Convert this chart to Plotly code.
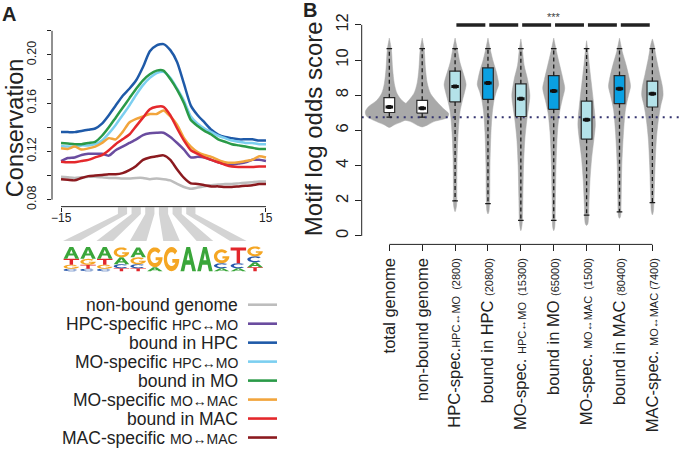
import numpy as np
import plotly.graph_objects as go

W, H = 680, 461
FONT = "Liberation Sans, Arial, Helvetica, sans-serif"
INK = "#222222"

# ---------------- Panel A data ----------------
positions = list(range(-15, 16))
cons_nonbound = [0.099,0.0985,0.098,0.0985,0.099,0.099,0.0985,0.098,0.098,0.0975,0.0975,0.098,0.098,0.097,0.0975,0.097,0.096,0.093,0.0905,0.089,0.090,0.091,0.092,0.0925,0.093,0.093,0.0935,0.094,0.0945,0.095,0.095]
cons_hpc_spec = [0.112,0.1145,0.115,0.117,0.118,0.118,0.118,0.1165,0.121,0.124,0.127,0.130,0.1335,0.135,0.1355,0.1355,0.132,0.127,0.1215,0.115,0.1155,0.115,0.113,0.111,0.1095,0.109,0.110,0.111,0.113,0.113,0.112]
cons_bound_hpc = [0.136,0.136,0.136,0.137,0.138,0.139,0.143,0.150,0.158,0.166,0.172,0.179,0.190,0.203,0.208,0.209,0.204,0.194,0.176,0.158,0.150,0.144,0.138,0.134,0.132,0.131,0.130,0.130,0.130,0.129,0.129]
cons_mo_spec_hpc = [0.1245,0.124,0.124,0.125,0.125,0.126,0.129,0.135,0.142,0.150,0.158,0.167,0.175,0.181,0.185,0.186,0.181,0.172,0.162,0.149,0.143,0.139,0.136,0.133,0.131,0.129,0.128,0.127,0.127,0.126,0.126]
cons_bound_mo = [0.127,0.1265,0.126,0.126,0.127,0.128,0.133,0.140,0.148,0.156,0.164,0.172,0.179,0.184,0.187,0.187,0.180,0.171,0.160,0.146,0.141,0.137,0.134,0.130,0.128,0.126,0.125,0.124,0.123,0.122,0.122]
cons_mo_spec_mac = [0.1226,0.122,0.124,0.1215,0.1225,0.124,0.127,0.131,0.130,0.136,0.144,0.147,0.149,0.151,0.151,0.154,0.149,0.142,0.131,0.124,0.1195,0.117,0.1155,0.113,0.111,0.1105,0.111,0.112,0.113,0.116,0.115]
cons_bound_mac = [0.1115,0.111,0.111,0.112,0.113,0.115,0.117,0.121,0.126,0.130,0.134,0.141,0.148,0.155,0.157,0.157,0.150,0.139,0.129,0.121,0.118,0.115,0.113,0.111,0.109,0.1075,0.107,0.107,0.107,0.1075,0.1075]
cons_mac_spec = [0.097,0.0965,0.096,0.098,0.0995,0.100,0.1005,0.101,0.101,0.102,0.1045,0.108,0.113,0.115,0.116,0.1167,0.113,0.105,0.098,0.0935,0.093,0.092,0.091,0.091,0.0905,0.0905,0.091,0.0915,0.092,0.093,0.093]

series_values = [cons_nonbound, cons_hpc_spec, cons_bound_hpc, cons_mo_spec_hpc,
                 cons_bound_mo, cons_mo_spec_mac, cons_bound_mac, cons_mac_spec]
series_names = ["non-bound genome", "HPC-specific", "bound in HPC", "MO-specific",
                "bound in MO", "MO-specific", "bound in MAC", "MAC-specific"]
series_sub = ["", "HPC↔MO", "", "HPC↔MO", "", "MO↔MAC", "", "MO↔MAC"]
series_colors = ["#bdbdbd", "#6a4c9f", "#1f5aa8", "#7ccff0", "#2a9a48",
                 "#f2a53c", "#e4282c", "#8b1a1f"]

a_xticks = [-15, 15]
a_xticktext = ["\u221215", "15"]
a_yticks = [0.08, 0.10, 0.12, 0.14, 0.16, 0.18, 0.20, 0.22]
a_yticktext = ["0.08", "", "0.12", "", "0.16", "", "0.20", ""]

# motif logo (letter, bits), listed top -> bottom per column
logo_cols = [
    [("A", 0.96), ("T", 0.48), ("G", 0.32), ("C", 0.20)],
    [("A", 0.96), ("G", 0.48), ("T", 0.32), ("C", 0.20)],
    [("A", 0.96), ("T", 0.48), ("G", 0.32), ("C", 0.20)],
    [("G", 0.80), ("A", 0.56), ("C", 0.32), ("T", 0.24)],
    [("A", 0.80), ("G", 0.56), ("C", 0.32), ("T", 0.24)],
    [("G", 1.60), ("A", 0.32)],
    [("G", 1.95)],
    [("A", 1.95)],
    [("A", 1.95)],
    [("G", 1.12), ("C", 0.40), ("A", 0.24)],
    [("T", 1.28), ("C", 0.40), ("A", 0.24)],
    [("G", 0.80), ("C", 0.48), ("A", 0.40), ("T", 0.32)],
]
logo_positions = [-6, -5, -4, -3, -2, -1, 0, 1, 2, 3, 4, 5]
letter_colors = {"A": "#3aa63a", "C": "#2656ab", "G": "#f5a623", "T": "#e2262b"}

# ---------------- Panel B data ----------------
categories = ["total genome", "non-bound genome",
              "HPC-spec.<span style='font-size:11px'>HPC↔MO  (2800)</span>",
              "bound in HPC <span style='font-size:11px'>(20800)</span>",
              "MO-spec. <span style='font-size:11px'>HPC↔MO  (15300)</span>",
              "bound in MO <span style='font-size:11px'>(65000)</span>",
              "MO-spec. <span style='font-size:11px'>MO↔MAC  (1500)</span>",
              "bound in MAC <span style='font-size:11px'>(80400)</span>",
              "MAC-spec. <span style='font-size:11px'>MO↔MAC (7400)</span>"]
q1 = [7.02, 6.98, 7.62, 7.77, 6.79, 7.20, 5.50, 7.52, 7.33]
medians = [7.33, 7.26, 8.50, 8.69, 7.80, 8.24, 6.60, 8.37, 8.09]
q3 = [7.86, 7.71, 9.37, 9.56, 8.65, 9.12, 7.67, 9.12, 8.80]
lower_whisker = [6.75, 6.75, 1.99, 1.84, 0.89, 0.89, 1.18, 1.37, 1.89]
upper_whisker = [10.65, 10.65, 10.65, 10.65, 10.65, 10.65, 10.65, 10.65, 10.65]
box_colors = ["#ffffff", "#ffffff", "#b4e2e9", "#0aa0e2", "#b4e2e9",
              "#0aa0e2", "#b4e2e9", "#0aa0e2", "#b4e2e9"]
score_threshold = 6.75
b_yticks = [0, 2, 4, 6, 8, 10, 12]

violin_levels = [
    [6.17, 6.3, 6.5, 6.8, 7.06, 7.34, 7.7, 8.1, 8.66, 9.5, 10.6, 11.25],
    [6.2, 6.3, 6.5, 6.73, 6.95, 7.2, 7.5, 8.1, 8.7, 9.5, 10.6, 11.25],
    [1.38, 1.75, 2.9, 4.4, 5.5, 6.6, 7.2, 7.7, 8.3, 8.6, 8.9, 9.4, 9.9, 10.5, 11.25],
    [1.25, 1.4, 2.2, 4.0, 5.9, 7.0, 7.7, 8.2, 8.6, 8.9, 9.4, 9.9, 10.5, 11.25],
    [0.3, 0.7, 2.2, 4.0, 5.5, 6.6, 7.4, 8.0, 8.9, 9.7, 10.6, 11.2],
    [0.3, 0.5, 2.2, 4.0, 5.9, 7.0, 7.7, 8.4, 8.9, 9.7, 10.5, 11.25],
    [0.6, 0.7, 1.8, 3.1, 4.4, 5.5, 6.3, 6.8, 7.7, 8.7, 9.7, 10.5, 11.1],
    [1.0, 1.1, 2.2, 4.0, 5.9, 7.2, 8.0, 8.5, 8.9, 9.7, 10.5, 11.25],
    [1.2, 1.4, 2.2, 4.0, 5.5, 6.6, 7.4, 8.0, 8.5, 9.2, 10.1, 10.9, 11.2],
]
violin_halfwidths = [
    [0, 4.3, 12.7, 22.7, 24, 21, 12.7, 7.7, 5, 3.3, 2, 0],
    [0, 5, 11.7, 25, 26.5, 22, 16.7, 8.3, 5, 3.3, 2, 0],
    [0, 1.5, 1.7, 2, 2.7, 4, 5.3, 7.3, 10, 11, 10, 7.3, 4.7, 2.7, 0],
    [0, 1, 1.7, 2, 3, 4.3, 6, 8.3, 10.7, 10, 8, 5.3, 2.7, 0],
    [0, 1.3, 2, 2.7, 4, 6, 8, 9, 6.7, 3.3, 1.5, 0],
    [0, 1, 1.7, 2.3, 3.7, 5.7, 8.3, 11, 9.3, 6, 2.7, 0],
    [0, 1.3, 2.3, 3.3, 5, 7.3, 8.7, 8.3, 6.7, 4.7, 2.7, 1.3, 0],
    [0, 1, 1.7, 2.3, 4, 6, 9, 11, 10, 6.7, 2.7, 0],
    [0, 1, 1.7, 2.7, 4, 6, 8.3, 10.7, 10, 7.3, 4, 1.5, 0],
]

# ---------------- geometry (pixels) ----------------
A_L, A_R, A_T, A_B = 52.0, 269.4, 28.6, 208.0
XA = (-16.32, 15.5)
YA = (0.0742, 0.222)
B_L, B_R, B_T, B_B = 361.7, 680.0, 10.0, 246.0
XB = (-0.84, 8.84)
YB = (-0.48, 12.85)
CAT_PX = (B_R - B_L) / (XB[1] - XB[0])


def px(x):
    return x / W


def py(y):
    return 1 - y / H


def a_x(v):
    return A_L + (v - XA[0]) / (XA[1] - XA[0]) * (A_R - A_L)


def a_y(v):
    return A_B - (v - YA[0]) / (YA[1] - YA[0]) * (A_B - A_T)


def b_x(v):
    return B_L + (v - XB[0]) / (XB[1] - XB[0]) * (B_R - B_L)


def b_y(v):
    return B_B - (v - YB[0]) / (YB[1] - YB[0]) * (B_B - B_T)


fig = go.Figure()

# ---- Panel A lines ----
for vals, col in zip(series_values, series_colors):
    fig.add_trace(go.Scatter(x=positions, y=vals, mode="lines",
                             line=dict(color=col, width=2.5, shape="spline", smoothing=0.6),
                             xaxis="x", yaxis="y", hoverinfo="skip"))

# ---- Panel B violins ----
for i in range(len(categories)):
    lv = np.array(violin_levels[i])
    hw = np.array(violin_halfwidths[i]) / CAT_PX
    xs = np.concatenate([i + hw, (i - hw)[::-1]])
    ys = np.concatenate([lv, lv[::-1]])
    fig.add_trace(go.Scatter(x=xs, y=ys, mode="lines", fill="toself",
                             fillcolor="#a9a9a9",
                             line=dict(color="#a9a9a9", width=0.5, shape="spline", smoothing=0.8),
                             xaxis="x2", yaxis="y2", hoverinfo="skip"))

# threshold dotted line
fig.add_trace(go.Scatter(x=[XB[0], XB[1]], y=[score_threshold, score_threshold], mode="lines",
                         line=dict(color="#33336e", width=2, dash="2px,5px"),
                         xaxis="x2", yaxis="y2", hoverinfo="skip"))

BW = 5.35 / CAT_PX
CAP = 2.8 / CAT_PX
wx, wy, cx, cy, mx, my = [], [], [], [], [], []
for i in range(len(categories)):
    fig.add_trace(go.Scatter(x=[i - BW, i + BW, i + BW, i - BW, i - BW],
                             y=[q1[i], q1[i], q3[i], q3[i], q1[i]],
                             mode="lines", fill="toself", fillcolor=box_colors[i],
                             line=dict(color="#2a2a2a", width=1.2),
                             xaxis="x2", yaxis="y2", hoverinfo="skip"))
    wx += [i, i, None, i, i, None]
    wy += [q3[i], upper_whisker[i], None, q1[i], lower_whisker[i], None]
    cx += [i - CAP, i + CAP, None, i - CAP, i + CAP, None]
    cy += [upper_whisker[i], upper_whisker[i], None, lower_whisker[i], lower_whisker[i], None]
    mx += [i - BW * 0.7, i + BW * 0.7, None]
    my += [medians[i], medians[i], None]

fig.add_trace(go.Scatter(x=wx, y=wy, mode="lines",
                         line=dict(color="#1a1a1a", width=1.3, dash="4px,3px"),
                         xaxis="x2", yaxis="y2", hoverinfo="skip"))
fig.add_trace(go.Scatter(x=cx, y=cy, mode="lines", line=dict(color="#1a1a1a", width=1.3),
                         xaxis="x2", yaxis="y2", hoverinfo="skip"))
fig.add_trace(go.Scatter(x=mx, y=my, mode="lines", line=dict(color="#111111", width=3),
                         xaxis="x2", yaxis="y2", hoverinfo="skip"))
fig.add_trace(go.Scatter(x=list(range(len(categories))), y=medians, mode="markers",
                         marker=dict(color="#111111", size=4, symbol="square"),
                         xaxis="x2", yaxis="y2", hoverinfo="skip"))

# significance bars
sx, sy = [], []
for k in range(2, 8):
    sx += [k + 0.04, k + 0.92, None]
    sy += [12, 12, None]
fig.add_trace(go.Scatter(x=sx, y=sy, mode="lines", line=dict(color="#222222", width=3.5),
                         xaxis="x2", yaxis="y2", hoverinfo="skip"))

shapes = []


def seg(x0, y0, x1, y1, color=INK, width=1):
    shapes.append(dict(type="line", xref="paper", yref="paper",
                       x0=px(x0), y0=py(y0), x1=px(x1), y1=py(y1),
                       line=dict(color=color, width=width)))


# axis lines (R style, only between first and last tick)
seg(A_L, a_y(0.08), A_L, a_y(0.22))
seg(a_x(-15), A_B, a_x(15), A_B)
seg(B_L, b_y(0), B_L, b_y(12))
seg(b_x(0), B_B, b_x(8), B_B)

# legend lines
LEG_Y0, LEG_DY = 306.7, 19.1
for i, col in enumerate(series_colors):
    yy = LEG_Y0 + LEG_DY * i
    seg(248, yy, 277, yy, color=col, width=2.6)


def poly_path(pts):
    return "M " + " L ".join(f"{px(x):.5f},{py(y):.5f}" for x, y in pts) + " Z"


# grey bands linking motif positions to logo columns
COL_L, COL_W = 63.0, 16.7
BAND_TOP, BAND_KINK, BAND_BOT = 208.5, 215.5, 242.5
for j in range(0, 12, 2):
    tc = a_x(logo_positions[j])
    bc = COL_L + COL_W * (j + 0.5)
    pts = [(tc - 4.6, BAND_TOP), (tc + 4.6, BAND_TOP), (tc + 4.6, BAND_KINK),
           (bc + 8.3, BAND_BOT), (bc - 8.3, BAND_BOT), (tc - 4.6, BAND_KINK)]
    shapes.append(dict(type="path", xref="paper", yref="paper", path=poly_path(pts),
                       fillcolor="#d4d4d4", line=dict(width=0), layer="below"))


# glyph outlines in a unit box (x right, y up)
def arc(cx0, cy0, r, a0, a1, n=22):
    t = np.radians(np.linspace(a0, a1, n))
    return [(cx0 + r * np.cos(a), cy0 + r * np.sin(a)) for a in t]


GLYPHS = {
    "A": [[(0, 0), (0.38, 1), (0.62, 1), (1, 0), (0.76, 0), (0.67, 0.27), (0.33, 0.27), (0.24, 0)],
          [(0.40, 0.45), (0.60, 0.45), (0.5, 0.76)]],
    "T": [[(0, 1), (1, 1), (1, 0.8), (0.61, 0.8), (0.61, 0), (0.39, 0), (0.39, 0.8), (0, 0.8)]],
    "C": [arc(0.5, 0.5, 0.5, 42, 318) + arc(0.5, 0.5, 0.29, 318, 42)],
    "G": [arc(0.5, 0.5, 0.5, 42, 360) + [(0.55, 0.5), (0.55, 0.35), (0.78, 0.35)]
          + arc(0.5, 0.5, 0.29, 330, 42)],
}

LOGO_BASE = 273.0
BIT_PX = 12.5
for j, col in enumerate(logo_cols):
    x0 = COL_L + COL_W * j + 0.6
    w = COL_W - 1.2
    ybot = LOGO_BASE
    for letter, bits in reversed(col):
        h = bits * BIT_PX
        path = ""
        for ring in GLYPHS[letter]:
            pts = [(x0 + u * w, ybot - v * h) for u, v in ring]
            path += poly_path(pts) + " "
        shapes.append(dict(type="path", xref="paper", yref="paper", path=path.strip(),
                           fillcolor=letter_colors[letter], line=dict(width=0)))
        ybot -= h

annotations = []


def label(x, y, text, size, angle=0, xanchor="center", yanchor="middle", bold=False, color=INK):
    annotations.append(dict(xref="paper", yref="paper", x=px(x), y=py(y), text=text,
                            showarrow=False, textangle=angle, xanchor=xanchor, yanchor=yanchor,
                            font=dict(family=FONT, size=size, color=color,
                                      weight="bold" if bold else "normal")))


label(9, 14, "A", 20, bold=True)
label(310, 10, "B", 20, bold=True)
label(15, 129, "Conservation", 23.5, angle=-90)
label(313, 130, "Motif log odds score", 24, angle=-90)
for i, (nm, sub) in enumerate(zip(series_names, series_sub)):
    txt = nm if not sub else f"{nm} <span style='font-size:14px'>{sub}</span>"
    label(240, LEG_Y0 + LEG_DY * i, txt, 17.5, xanchor="right")
for v, t in zip(a_xticks, a_xticktext):
    label(a_x(v), 219, t, 12)
annotations.append(dict(xref="x2", yref="y2", x=5.0, y=12.42, text="***", showarrow=False,
                        font=dict(family=FONT, size=11, color="#444444")))

axis_common = dict(showgrid=False, zeroline=False, showline=False, ticks="outside",
                   tickcolor=INK, tickwidth=1, tickfont=dict(family=FONT, color=INK))

fig.update_layout(
    width=W, height=H, margin=dict(l=0, r=0, t=0, b=0),
    paper_bgcolor="white", plot_bgcolor="rgba(0,0,0,0)", showlegend=False,
    xaxis=dict(axis_common, domain=[px(A_L), px(A_R)], range=list(XA), anchor="y",
               tickvals=a_xticks, showticklabels=False, ticklen=4),
    yaxis=dict(axis_common, domain=[py(A_B), py(A_T)], range=list(YA), anchor="x",
               tickvals=a_yticks, ticktext=a_yticktext, ticklen=4, tickangle=-90,
               ticklabelstandoff=6,
               tickfont=dict(family=FONT, size=12.5, color=INK)),
    xaxis2=dict(axis_common, domain=[px(B_L), px(B_R)], range=list(XB), anchor="y2",
                tickvals=list(range(len(categories))), ticktext=categories, ticklen=6,
                tickangle=-90, tickfont=dict(family=FONT, size=16.5, color=INK)),
    yaxis2=dict(axis_common, domain=[py(B_B), py(B_T)], range=list(YB), anchor="x2",
                tickvals=b_yticks, ticklen=6, tickangle=-90,
                tickfont=dict(family=FONT, size=16.5, color=INK)),
    shapes=shapes, annotations=annotations,
)

fig.write_html("out.html", config={"displayModeBar": False},
               post_script="document.body.style.margin='0px';")
